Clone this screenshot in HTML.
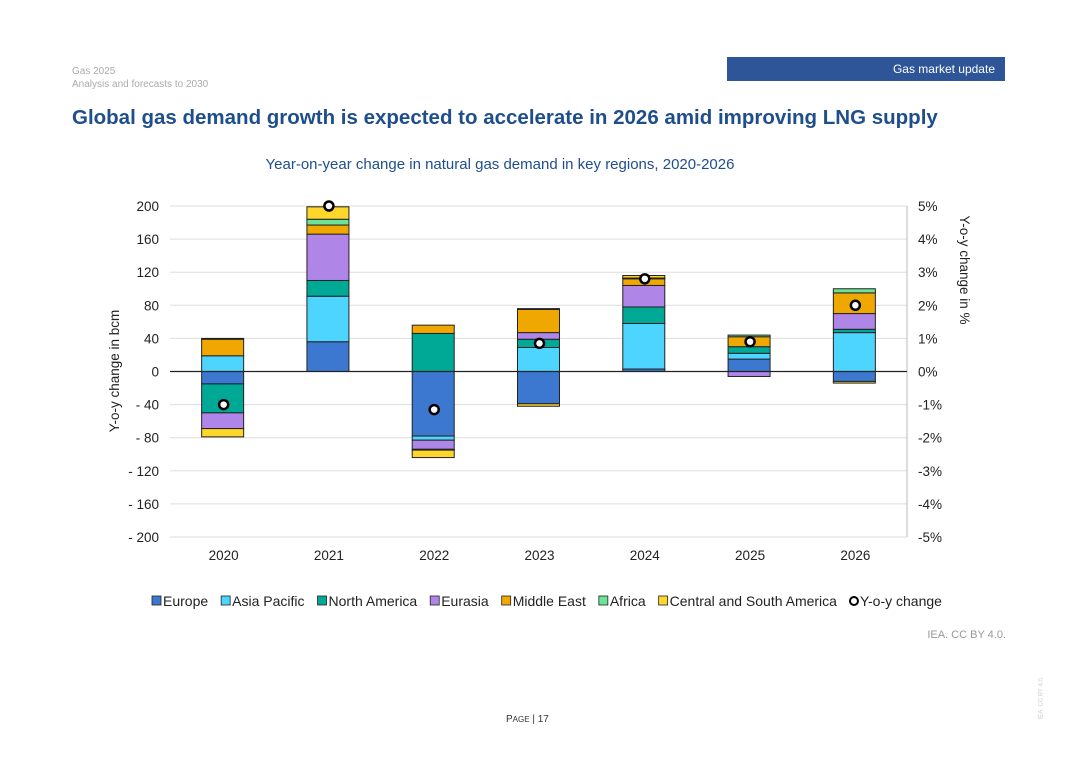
<!DOCTYPE html>
<html><head><meta charset="utf-8"><style>
body{margin:0;width:1080px;height:764px;background:#fff;font-family:"Liberation Sans",Arial,sans-serif;position:relative;overflow:hidden}
.a{position:absolute;white-space:nowrap}
</style></head><body>
<div class="a" style="left:72px;top:66px;font-size:10px;color:#aaa">Gas 2025</div>
<div class="a" style="left:72px;top:79px;font-size:10px;color:#aaa">Analysis and forecasts to 2030</div>
<div class="a" style="left:727px;top:57px;width:278px;height:24px;background:#2e5597;color:#fff;font-size:12px;line-height:24px;text-align:right;box-sizing:border-box;padding-right:10px">Gas market update</div>
<div class="a" style="left:72px;top:106px;font-size:20.5px;font-weight:bold;color:#1f4e8c">Global gas demand growth is expected to accelerate in 2026 amid improving LNG supply</div>
<div class="a" style="right:74px;top:629px;font-size:11px;color:#999">IEA. CC BY 4.0.</div>
<div class="a" style="left:506px;top:714px;font-size:10px;color:#333">P<span style="font-size:8px">AGE</span> | 17</div>
<div class="a" style="left:1020px;top:695px;font-size:6px;color:#ccc;transform:rotate(-90deg)">IEA. CC BY 4.0.</div>
<svg class="a" style="left:0;top:0" width="1080" height="764" id="chart"></svg>
<script>
const years=["2020","2021","2022","2023","2024","2025","2026"];
const europe=[-15,36,-78,-39,3,15,-12];
const asiaPacific=[19,55,-5,29,55,7,47];
const northAmerica=[-35,19,46,10,20,8,4];
const eurasia=[-19,56,-11,8,26,-6,19];
const middleEast=[20,11,10,28,8,12,25];
const africa=[1,7,-1,1,1,2,5];
const csa=[-10,15,-9,-3,3,0,-2];
const yoy=[-1.0,5.0,-1.15,0.85,2.8,0.9,2.0];
const leftTicks=[200,160,120,80,40,0,-40,-80,-120,-160,-200];
const rightTicks=["5%","4%","3%","2%","1%","0%","-1%","-2%","-3%","-4%","-5%"];
const series=[["Europe",europe,"#3d78d0"],["Asia Pacific",asiaPacific,"#4dd4ff"],["North America",northAmerica,"#00a896"],["Eurasia",eurasia,"#b085e8"],["Middle East",middleEast,"#f0a800"],["Africa",africa,"#6de39a"],["Central and South America",csa,"#ffd62a"]];
const svg=document.getElementById('chart');const NS="http://www.w3.org/2000/svg";
const X0=170,X1=907,Y0=206,Y1=537;
const y=v=>Y0+(200-v)*(Y1-Y0)/400;
const yp=p=>y(p*40);
const bw=(X1-X0)/years.length;
const xc=i=>X0+bw*(i+0.5);
function el(t,a,txt){const e=document.createElementNS(NS,t);for(const k in a)e.setAttribute(k,a[k]);if(txt!==undefined)e.textContent=txt;svg.appendChild(e);return e;}
let t=el('text',{x:500,y:169,'text-anchor':'middle','font-size':15,fill:'#1f4e8c'},'Year-on-year change in natural gas demand in key regions, 2020-2026');


leftTicks.forEach((v,i)=>{
 const g=el('line',{x1:X0,x2:X1,y1:y(v),y2:y(v),stroke:'#ddd','stroke-width':1});
 
 
 const l=el('text',{x:159,y:y(v)+5,'text-anchor':'end','font-size':13.5,fill:'#222'},v<0?'- '+(-v):String(v));
 
 
 const r=el('text',{x:918,y:y(v)+5,'font-size':13.5,fill:'#222'},rightTicks[i]);
 
 
});
el('line',{x1:X1,x2:X1,y1:Y0,y2:Y1,stroke:'#bbb'});
years.forEach((yr,i)=>{
 let pos=0,neg=0;
 series.forEach(s=>{
  const v=s[1][i];if(!v)return;
  let top,bot;
  if(v>0){bot=pos;top=pos+v;pos=top;}else{top=neg;bot=neg+v;neg=bot;}
  const r=el('rect',{x:xc(i)-21,y:y(top),width:42,height:y(bot)-y(top),fill:s[2],stroke:'#222','stroke-width':1});
  
  
 });
 const l=el('text',{x:xc(i)+1,y:560,'text-anchor':'middle','font-size':13.5,fill:'#222'},yr);
 
 
});
const z=el('line',{x1:X0,x2:X1,y1:y(0),y2:y(0),stroke:'#222','stroke-width':1.2});


yoy.forEach((p,i)=>{
 const c=el('circle',{cx:xc(i)+1,cy:yp(p),r:4.5,fill:'#fff',stroke:'#000','stroke-width':2.5});
 
 
});
let yl=el('text',{transform:'translate(119,371) rotate(-90)','text-anchor':'middle','font-size':13.5,fill:'#222'},'Y-o-y change in bcm');


let yr2=el('text',{transform:'translate(960,270) rotate(90)','text-anchor':'middle','font-size':13.5,fill:'#222'},'Y-o-y change in %');


let lx=152;
series.forEach(s=>{
 const r=el('rect',{x:lx,y:596,width:9,height:9,fill:s[2],stroke:'#222','stroke-width':0.8});
 
 
 const tx=el('text',{x:lx+11,y:606,'font-size':14,fill:'#222'},s[0]);
 
 
 lx+=11+tx.getComputedTextLength()+13;
});
const lc=el('circle',{cx:lx+4,cy:601,r:4,fill:'#fff',stroke:'#000','stroke-width':2});


const lt=el('text',{x:lx+10,y:606,'font-size':14,fill:'#222'},'Y-o-y change');


</script>
</body></html>
